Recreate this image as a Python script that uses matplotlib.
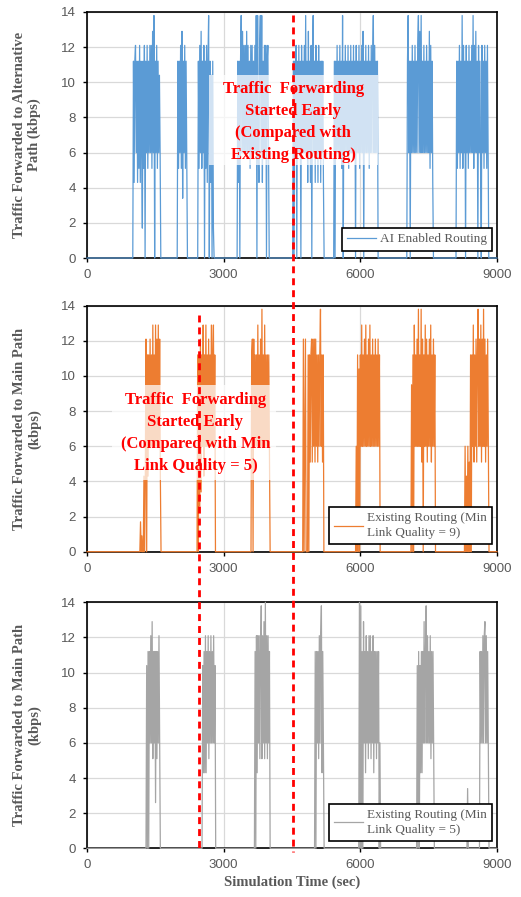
import matplotlib
matplotlib.use("Agg")
import matplotlib.pyplot as plt
from matplotlib.lines import Line2D
from matplotlib.patches import Rectangle
from matplotlib import transforms

# sample spacing of the traffic log (sec)
step = 15

# AI enabled routing (traffic forwarded to alternative path, kbps)
ai_starts = [1020, 1995, 2445, 3310, 4530, 5430, 7035, 8115]
ai_bursts = [
    [11.2, 4.3, 11.2, 12.1, 6.0, 11.2, 4.3, 11.2, 5.1, 12.1,
     4.3, 11.2, 6.0, 1.7, 11.2, 5.1, 12.1, 0, 11.2, 6.0,
     12.1, 5.1, 11.2, 6.0, 12.1, 6.0, 12.1, 5.1, 12.9, 6.0,
     13.8, 0, 11.2, 6.0, 12.1, 5.1, 11.2, 6.0, 10.4, 6.0],
    [11.2, 5.1, 11.2, 6.0, 12.1, 5.1, 12.9, 3.4, 11.2, 6.0, 12.1, 5.1, 11.2, 6.0],
    [11.2, 5.1, 12.1, 6.0, 12.9, 5.1, 11.2, 6.0, 12.1, 0, 11.2, 5.1,
     12.1, 4.3, 11.2, 13.8, 0, 11.2, 4.3, 10.4, 0, 11.2, 1.7, 0],
    [11.2, 4.3, 11.2, 0, 11.2, 13.8, 6.0, 12.9,
     6.0, 12.1, 6.0, 12.1, 6.0, 12.9, 6.0, 12.1,
     6.0, 11.2, 5.1, 12.1, 6.0, 12.1, 6.0, 11.2,
     6.0, 12.1, 6.0, 13.8, 0, 13.8, 6.0, 4.3,
     12.1, 13.8, 6.0, 13.8, 4.3, 11.2, 6.0, 12.1,
     6.0, 12.1, 0, 11.2, 12.1, 6.0],
    [11.2, 0, 11.2, 6.0, 12.1, 0, 11.2, 6.0, 12.1, 6.0,
     11.2, 0, 12.1, 6.0, 11.2, 6.0, 12.1, 6.0, 13.8, 6.0,
     11.2, 4.3, 12.9, 6.0, 11.2, 4.3, 12.1, 0, 11.2, 13.8,
     6.0, 11.2, 4.3, 12.1, 6.0, 11.2, 4.3, 12.1, 6.0, 11.2,
     4.3, 11.2, 6.0, 11.2, 4.3],
    [11.2, 0, 11.2, 6.0, 12.1, 6.0, 11.2, 6.0,
     12.1, 6.0, 11.2, 5.1, 13.8, 0, 11.2, 6.0,
     12.1, 6.0, 11.2, 6.0, 12.1, 5.1, 11.2, 6.0,
     12.1, 6.0, 11.2, 6.0, 12.1, 6.0, 11.2, 0,
     12.1, 6.0, 11.2, 6.0, 12.1, 5.1, 11.2, 6.0,
     12.1, 6.0, 12.9, 0, 11.2, 6.0, 12.1, 6.0,
     11.2, 6.0, 12.1, 5.1, 11.2, 6.0, 12.1, 6.0,
     11.2, 13.8, 6.0, 12.1, 6.0, 11.2, 6.0, 11.2],
    [11.2, 13.8, 6.0, 11.2, 0, 11.2, 6.0, 12.1,
     6.0, 11.2, 6.0, 12.1, 6.0, 11.2, 6.0, 12.1,
     13.8, 6.0, 12.9, 6.0, 13.8, 6.0, 11.2, 6.0,
     12.1, 6.0, 11.2, 6.0, 12.1, 6.0, 11.2, 6.0,
     12.9, 5.1, 12.1, 6.0, 11.2, 4.3],
    [11.2, 5.1, 11.2, 6.0, 12.1, 5.1, 11.2, 6.0,
     13.8, 5.1, 12.1, 6.0, 11.2, 0, 12.1, 6.0,
     11.2, 5.1, 12.1, 6.0, 11.2, 6.0, 12.1, 6.0,
     13.8, 5.1, 12.1, 6.0, 12.9, 6.0, 11.2, 0,
     12.1, 6.0, 11.2, 5.1, 0, 12.1, 6.0, 11.2,
     5.1, 12.1, 6.0, 11.2, 5.1, 12.1, 6.0],
]

# Existing routing, min link quality = 9 (main path)
lq9_starts = [1175, 2430, 3615, 4750, 5910, 7125, 8300]
lq9_bursts = [
    [1.7, 0, 0.9, 0, 0, 4.3, 0, 4.3, 12.1, 0,
     11.2, 4.3, 11.2, 6.0, 12.1, 6.0, 11.2, 6.0, 12.9, 6.0,
     11.2, 6.0, 12.9, 6.0, 12.1, 6.0, 12.9, 6.0, 12.1, 4.3],
    [11.2, 0, 11.2, 2.6, 12.1, 3.4, 11.2, 6.0, 12.9, 4.3, 11.2, 6.0, 12.9,
     6.0, 11.2, 6.0, 12.1, 6.0, 11.2, 6.0, 12.9, 6.0, 11.2, 12.9, 6.0, 11.2],
    [11.2, 12.1, 0, 12.1, 6.0, 11.2, 6.0, 11.2, 6.0, 12.9, 6.0, 11.2, 6.0, 12.1,
     6.0, 13.8, 6.0, 11.2, 6.0, 12.9, 6.0, 11.2, 6.0, 11.2, 6.0, 11.2, 6.0],
    [12.1, 0, 6.0, 12.1, 0, 0, 0, 11.2, 0, 11.2,
     5.1, 11.2, 12.1, 5.1, 12.1, 6.0, 12.1, 5.1, 12.1, 6.0,
     11.2, 5.1, 11.2, 6.0, 11.2, 13.8, 6.0, 11.2, 5.1, 11.2],
    [6.0, 0, 11.2, 0, 10.4, 0, 11.2, 6.0, 12.9, 6.0,
     11.2, 6.0, 12.1, 6.0, 12.9, 6.0, 11.2, 6.0, 12.1, 6.0,
     12.9, 6.0, 11.2, 6.0, 12.1, 6.0, 11.2, 6.0, 12.1, 6.0,
     11.2, 6.0, 12.1, 6.0, 11.2],
    [9.5, 0, 11.2, 0, 12.9, 6.0, 11.2, 6.0, 12.1, 6.0,
     13.8, 6.0, 11.2, 6.0, 13.8, 5.1, 12.1, 0, 11.2, 6.0,
     12.9, 6.0, 12.1, 5.1, 11.2, 6.0, 12.1, 6.0, 12.9, 5.1,
     11.2, 6.0, 12.1, 6.0, 11.2],
    [6.0, 0, 4.3, 0, 6.0, 0, 5.1, 0, 11.2, 0,
     11.2, 6.0, 12.9, 5.1, 11.2, 6.0, 12.1, 5.1, 11.2, 13.8,
     6.0, 12.1, 6.0, 12.9, 5.1, 12.1, 6.0, 13.8, 6.0, 12.1,
     5.1, 11.2, 6.0, 12.1, 6.0],
]

# Existing routing, min link quality = 5 (main path)
lq5_starts = [1310, 2540, 3690, 5010, 5980, 7250, 8355, 8630]
lq5_bursts = [
    [10.4, 0, 11.2, 0, 11.2, 6.0, 12.1, 6.0, 12.9, 5.1,
     11.2, 6.0, 11.2, 2.6, 11.2, 5.1, 11.2, 6.0, 12.1, 6.0],
    [10.4, 4.3, 11.2, 4.3, 12.1, 4.3, 11.2, 6.0, 12.1, 5.1,
     11.2, 6.0, 12.1, 6.0, 11.2, 6.0, 12.1, 6.0, 10.4],
    [11.2, 0, 12.1, 4.3, 12.1, 6.0, 12.1, 5.1, 11.2, 13.8, 5.1,
     12.1, 6.0, 12.9, 5.1, 14.0, 6.0, 12.1, 5.1, 12.1, 6.0, 11.2],
    [11.2, 0, 11.2, 6.0, 11.2, 5.1, 12.1, 6.0, 12.1, 13.8, 4.3, 11.2, 6.0],
    [14.0, 0, 13.8, 0, 11.2, 0, 12.9, 6.0, 11.2, 4.3,
     12.1, 6.0, 11.2, 5.1, 12.1, 6.0, 12.1, 5.1, 11.2, 6.0,
     12.1, 4.3, 11.2, 6.0, 11.2, 5.1, 11.2, 6.0, 11.2, 0, 6.0],
    [10.4, 0, 11.2, 0, 10.4, 4.3, 11.2, 4.3, 11.2, 6.0,
     12.9, 6.0, 11.2, 13.8, 6.0, 12.1, 6.0, 11.2, 6.0, 12.1,
     5.1, 11.2, 6.0, 11.2, 6.0],
    [3.4],
    [11.2, 6.0, 11.2, 6.0, 12.1, 6.0, 12.1, 12.9, 6.0, 12.1, 6.0, 11.2, 6.0],
]

x_ticks = [0, 3000, 6000, 9000]
y_ticks = [0, 2, 4, 6, 8, 10, 12, 14]
early_ai = 4530      # AI routing starts forwarding
early_lq9 = 2450     # LQ=9 routing starts forwarding


def build_series(starts, bursts):
    xs = [0]
    ys = [0]
    for s, vals in zip(starts, bursts):
        xs.append(s - step)
        ys.append(0)
        for i, v in enumerate(vals):
            xs.append(s + step * i)
            ys.append(v)
        xs.append(s + step * len(vals))
        ys.append(0)
    xs.append(9000)
    ys.append(0)
    return xs, ys


grey = '#595959'
serif = ['Liberation Serif', 'DejaVu Serif']
sans = ['Liberation Sans', 'DejaVu Sans']

fig = plt.figure(figsize=(5.21, 8.97), dpi=100)
left, width, height = 87 / 521, 410 / 521, 246 / 897
bottoms = [1 - 258 / 897, 1 - 551.7 / 897, 1 - 848.3 / 897]

panels = [
    (ai_starts, ai_bursts, '#5B9BD5', 'AI Enabled Routing',
     'Traffic Forwarded to Alternative\nPath (kbps)'),
    (lq9_starts, lq9_bursts, '#ED7D31', 'Existing Routing (Min\nLink Quality = 9)',
     'Traffic Forwarded to Main Path\n(kbps)'),
    (lq5_starts, lq5_bursts, '#A5A5A5', 'Existing Routing (Min\nLink Quality = 5)',
     'Traffic Forwarded to Main Path\n(kbps)'),
]

axes = []
for (starts, bursts, color, label, ylabel), b in zip(panels, bottoms):
    ax = fig.add_axes([left, b, width, height])
    xs, ys = build_series(starts, bursts)
    ax.plot(xs, ys, color=color, lw=0.9, label=label, zorder=3, clip_on=False)
    ax.set_xlim(0, 9000)
    ax.set_ylim(0, 14)
    ax.set_xticks(x_ticks)
    ax.set_yticks(y_ticks)
    ax.set_axisbelow(True)
    ax.grid(True, color='#d9d9d9', lw=0.9)
    for sp in ax.spines.values():
        sp.set_color('black')
        sp.set_linewidth(1.2)
    ax.tick_params(direction='out', length=3, width=1, color='black',
                   labelcolor=grey, labelsize=9.5, pad=5)
    for t in ax.get_xticklabels() + ax.get_yticklabels():
        t.set_fontfamily(sans)
    ax.set_ylabel(ylabel, fontsize=10.5, fontweight='bold', color=grey,
                  family=serif, linespacing=1.15)
    ax.yaxis.set_label_coords(-0.112, 0.5)
    leg = ax.legend(loc='lower right', bbox_to_anchor=(0.988, 0.03),
                    borderaxespad=0, fancybox=False, framealpha=1,
                    handlelength=2.2, handletextpad=0.3,
                    prop={'family': serif, 'size': 9.5})
    leg.get_frame().set_edgecolor('black')
    leg.get_frame().set_linewidth(1.2)
    for t in leg.get_texts():
        t.set_color(grey)
        t.set_linespacing(1.3)
    axes.append(ax)

axes[2].set_xlabel('Simulation Time (sec)', fontsize=10.5, fontweight='bold',
                   color=grey, family=serif, labelpad=3)

# white see-through boxes behind the notes
axes[0].add_patch(Rectangle((2678, 5.3), 6388 - 2678, 10.4 - 5.3,
                            facecolor='white', alpha=0.72, lw=0, zorder=4))
axes[0].text(early_ai, 7.75, 'Traffic  Forwarding\nStarted Early\n(Compared with\nExisting Routing)',
             ha='center', va='center', color='red', fontsize=12, fontweight='bold',
             family=serif, linespacing=1.5, zorder=5)
axes[1].add_patch(Rectangle((550, 4.1), 4150 - 550, 9.5 - 4.1,
                            facecolor='white', alpha=0.72, lw=0, zorder=4))
axes[1].text(2380, 6.75, 'Traffic  Forwarding\nStarted Early\n(Compared with Min\nLink Quality = 5)',
             ha='center', va='center', color='red', fontsize=12, fontweight='bold',
             family=serif, linespacing=1.5, zorder=5)

# red dashed markers running across the panels
tr = transforms.blended_transform_factory(axes[0].transData, fig.transFigure)
fig.add_artist(Line2D([early_ai, early_ai], [1 - 15 / 897, 1 - 852 / 897],
                      transform=tr, color='red', lw=2, ls=(0, (2.5, 1.8)), zorder=10))
fig.add_artist(Line2D([early_lq9, early_lq9], [1 - 315 / 897, 1 - 852 / 897],
                      transform=tr, color='red', lw=2, ls=(0, (2.5, 1.8)), zorder=10))

fig.savefig('out.png', dpi=100, facecolor='white')
